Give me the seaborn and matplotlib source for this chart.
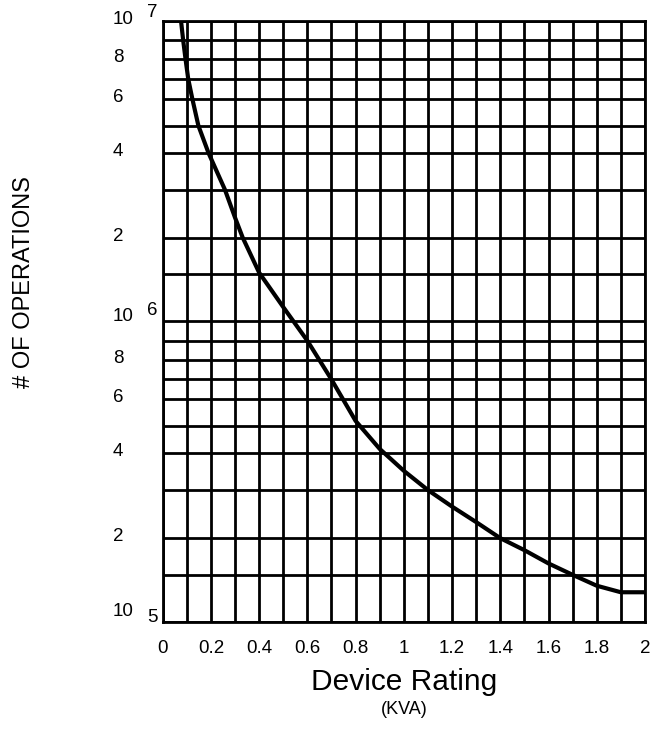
import numpy as np
import pandas as pd
import seaborn as sns
import matplotlib
matplotlib.use("Agg")
import matplotlib.pyplot as plt
from matplotlib import transforms
from matplotlib.ticker import FixedLocator

# Life curve: number of operations versus device rating (KVA)
rating_kva = [0.076, 0.085, 0.095, 0.106, 0.123, 0.148, 0.19, 0.258, 0.30, 0.332,
              0.40, 0.50, 0.542, 0.60, 0.70, 0.80, 0.90, 1.00, 1.10, 1.20,
              1.30, 1.40, 1.50, 1.60, 1.70, 1.80, 1.90, 2.00]
operations = [1.0e7, 9.0e6, 8.0e6, 7.0e6, 6.0e6, 5.0e6, 4.0e6, 3.0e6, 2.37e6, 2.0e6,
              1.52e6, 1.13e6, 1.0e6, 9.0e5, 7.0e5, 5.18e5, 4.15e5, 3.49e5, 3.0e5, 2.61e5,
              2.29e5, 2.0e5, 1.82e5, 1.64e5, 1.5e5, 1.365e5, 1.29e5, 1.29e5]

x_ticks = [0, 0.2, 0.4, 0.6, 0.8, 1.0, 1.2, 1.4, 1.6, 1.8, 2.0]
x_tick_labels = ["0", "0.2", "0.4", "0.6", "0.8", "1", "1.2", "1.4", "1.6", "1.8", "2"]
decades = [5, 6, 7]
labelled_mantissas = [2, 4, 6, 8]
ruled_mantissas = [1, 1.5, 2, 3, 4, 5, 6, 7, 8, 9]

# Ruling of the semi-log chart paper: where each mantissa line sits inside a decade
RULE_M = np.log10([1, 1.5, 2, 3, 4, 5, 6, 7, 8, 9, 10])
RULE_P = np.array([0.0, 0.156, 0.278, 0.438, 0.56, 0.651, 0.74, 0.806, 0.871, 0.935, 1.0])


def paper_forward(v):
    v = np.maximum(np.asarray(v, dtype=float), 1e-300)
    lg = np.log10(v)
    d = np.floor(lg)
    return d + np.interp(lg - d, RULE_M, RULE_P)


def paper_inverse(p):
    p = np.asarray(p, dtype=float)
    d = np.floor(p)
    return 10.0 ** (d + np.interp(p - d, RULE_P, RULE_M))


sns.set_style("white")
plt.rcParams["font.family"] = ["Liberation Sans", "DejaVu Sans"]

df = pd.DataFrame({"rating": rating_kva, "ops": operations})

fig = plt.figure(figsize=(6.52, 7.29), dpi=100)
ax = fig.add_axes([0.2495, 0.1472, 0.7397, 0.8244])
ax.set_yscale("function", functions=(paper_forward, paper_inverse))

sns.lineplot(data=df, x="rating", y="ops", ax=ax, color="black", linewidth=3.0,
             sort=False, estimator=None, zorder=5)

ax.set_xlim(0, 2)
ax.set_ylim(1e5, 1e7)

# grid ruling
ax.xaxis.set_major_locator(FixedLocator(x_ticks))
ax.xaxis.set_minor_locator(FixedLocator(np.round(np.arange(0, 2.001, 0.1), 2)))
minor_y = [m * 10.0 ** d for d in decades[:-1] for m in ruled_mantissas] + [1e7]
major_y = [m * 10.0 ** d for d in decades[:-1] for m in labelled_mantissas] + [1e6, 1e7]
ax.yaxis.set_minor_locator(FixedLocator(minor_y))
ax.yaxis.set_major_locator(FixedLocator(major_y))
ax.grid(which="both", color="black", linewidth=2.0)
ax.set_axisbelow(True)
for s in ax.spines.values():
    s.set_color("black")
    s.set_linewidth(2.0)
    s.set_visible(True)

ax.set_xticklabels(x_tick_labels)
ax.tick_params(axis="x", which="both", length=0, pad=13.0, labelsize=13.5, colors="black")
ax.tick_params(axis="y", which="major", length=6.5, width=2.0, pad=29.5, labelsize=13.5,
               colors="black")
ax.tick_params(axis="y", which="minor", length=0)

ylabels = []
for v in major_y:
    m = v / 10.0 ** np.floor(np.log10(v) + 1e-9)
    ylabels.append("" if abs(m - 1) < 1e-6 else f"{m:g}")
ax.set_yticklabels(ylabels)
lift = transforms.ScaledTranslation(0, 2.5 / 72, fig.dpi_scale_trans)
for lab in ax.get_yticklabels():
    lab.set_horizontalalignment("left")
    lab.set_transform(lab.get_transform() + lift)

# decade labels written as 10 with a raised exponent
ytr = ax.get_yaxis_transform()
ten_lift = {7: 0.7, 6: 3.4, 5: 7.2}
exp_lift = {7: 5.9, 6: 7.9, 5: 2.7}
for d in decades:
    off = transforms.ScaledTranslation(0, ten_lift[d] / 72, fig.dpi_scale_trans)
    ax.text(-0.1037, 10.0 ** d, "10", transform=ytr + off, ha="left", va="center",
            fontsize=13.5, color="black")
    off = transforms.ScaledTranslation(0, exp_lift[d] / 72, fig.dpi_scale_trans)
    ax.text(-0.032, 10.0 ** d, str(d), transform=ytr + off, ha="left", va="center",
            fontsize=13.5, color="black")

ax.set_xlabel("Device Rating", fontsize=21.5, va="center", color="black")
ax.xaxis.set_label_coords(0.5, -0.0998)
ax.text(0.5, -0.1469, "(KVA)", transform=ax.transAxes, ha="center", va="center",
        fontsize=13, color="black")
ax.set_ylabel("# OF OPERATIONS", fontsize=17, va="center", color="black")
ax.yaxis.set_label_coords(-0.2876, 0.5644)

fig.savefig("out.png", dpi=100)
